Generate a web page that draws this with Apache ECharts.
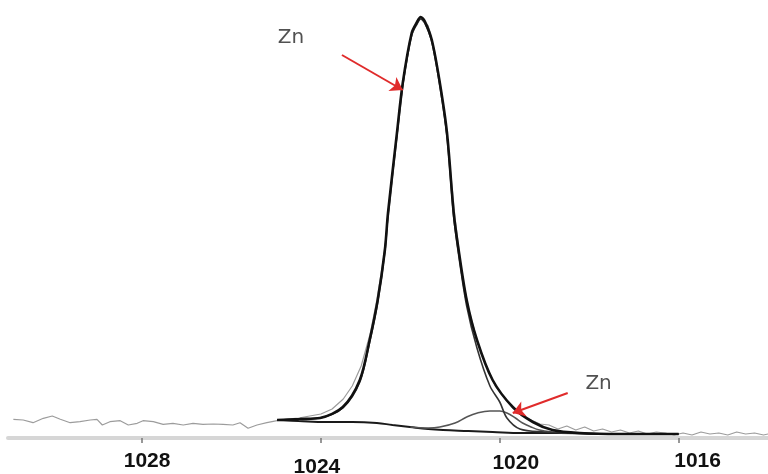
<!DOCTYPE html>
<html>
<head>
<meta charset="utf-8">
<script src="https://cdn.jsdelivr.net/npm/echarts@6/dist/echarts.min.js"></script>
<style>html,body{margin:0;padding:0;background:#fff}#c{width:768px;height:474px}</style>
</head>
<body>
<div id="c"></div>
<script>
// Binding energy (eV) tick labels
const tickValues = [1028, 1024, 1020, 1016];

// Raw spectrum (gray, noisy)
const rawX = [1030.88,1030.66,1030.44,1030.21,1030.01,1029.83,1029.61,1029.39,1029.16,1029.01,1028.89,1028.72,1028.49,1028.31,1028.11,1027.98,1027.75,1027.53,1027.31,1027.08,1026.86,1026.64,1026.41,1026.19,1025.97,1025.81,1025.63,1025.43,1025.21,1024.98,
  1024.75,1024.5,1024.25,1024.0,1023.75,1023.5,1023.3,1023.1,1022.9,1022.75,1022.6,1022.45,1022.3,1022.15,1022.0,1021.85,1021.75,1021.6,1021.45,1021.3,1021.15,1021.0,1020.85,1020.7,1020.5,1020.3,1020.1,1019.9,1019.7,1019.5,1019.3,1019.1,1018.9,
  1018.7,1018.5,1018.3,1018.1,1017.9,1017.7,1017.5,1017.3,1017.1,1016.9,1016.7,1016.5,1016.3,1016.1,1015.9,1015.7,1015.5,1015.3,1015.1,1014.9,1014.7,1014.5,1014.3,1014.1,1014.0];
const rawY = [18.7,18,15.3,19.7,22,18.7,15.3,16.3,18,18.7,13,16.3,17.3,13,14.7,17.3,16.3,13.7,14.7,13,14.7,13.7,14,13.7,13,15.3,9.7,13,15.3,17.3,
  19,20,22,24,29,39,52,72,104,138,180,238,300,357,398,417,420,412,385,345,290,220,165,130,96,72,52,40,30,22,18,14,13,
  9,12,8,11,7,9,6,8,5,7,4,6,5,3,5,3,6,4,5,3,6,4,5,3,4];

// Fitted envelope (black)
const envX = [1024.98,1024.47,1024.02,1023.51,1023.13,1022.91,1022.73,1022.57,1022.50,1022.30,1022.17,1021.97,1021.85,1021.77,1021.68,1021.52,1021.34,1021.18,1021.03,1020.92,1020.74,1020.51,1020.16,1019.71,1019.26,1018.82,1018.21,1017.32,1016.00];
const envY = [18,19,20,31,58,98,138,188,225,305,355,405,416,421,417,398,355,305,225,188,138,98,58,31,16,8,5,4,4];

// Main Zn component
const mainX = [1024.98,1024.47,1024.02,1023.51,1023.13,1022.91,1022.73,1022.57,1022.50,1022.30,1022.17,1021.97,1021.85,1021.77,1021.68,1021.52,1021.34,1021.18,1021.03,1020.92,1020.74,1020.51,1020.22,1020.0,1019.84,1019.55,1019.0,1018.5,1017.5,1016.0];
const mainY = [18,19,20,30,56,96,136,186,223,303,353,403,414,419,415,396,352,301,221,183,132,90,52,36,20,9,6,5,4,4];

// Small Zn component
const smallX = [1022.0,1021.6,1021.34,1021.0,1020.74,1020.5,1020.22,1020.0,1019.84,1019.65,1019.49,1019.3,1019.11,1018.8,1018.5];
const smallY = [11,10,11,15,21,25,27,27,25,20,15,11,8,6,5];

// Background
const bgX = [1024.98,1024.5,1023.87,1023.3,1022.75,1022.4,1022.01,1021.6,1021.27,1020.7,1020.16,1019.5,1018.66,1017.5,1016.0];
const bgY = [18,17,16,16,15,13,11,9,8,7,6,5,5,4,4];

// Annotations (data units)
const annoText = ['Zn', 'Zn'];
const annoLabelPos = [[1024.67, 400], [1017.79, 54]];
const arrowFrom = [[1023.53, 383], [1018.48, 45]];
const arrowTo = [[1022.17, 348], [1019.71, 25]];

const zip = (xs, ys) => xs.map((x, i) => [x, ys[i]]);

const lblFont = { fontFamily: 'Liberation Sans, Arial, sans-serif', fontWeight: 'bold', fontSize: 21, color: '#111' };

const chart = echarts.init(document.getElementById('c'));
chart.setOption({
  animation: false,
  backgroundColor: '#fff',
  grid: { left: 8, right: 0, top: 0, bottom: 36, containLabel: false, outerBoundsMode: 'none' },
  xAxis: {
    type: 'value', min: 1014, max: 1031, inverse: true,
    axisLine: { show: true, lineStyle: { color: '#d6d6d6', width: 4 } },
    axisTick: { show: true, length: 5, customValues: tickValues, lineStyle: { color: '#777', width: 1.5 } },
    axisLabel: Object.assign({
      customValues: tickValues, margin: 13,
      formatter: v => '{t' + v + '|' + String(v) + '}',
      rich: {
        t1028: Object.assign({ padding: [0, 0, 0, 10] }, lblFont),
        t1024: Object.assign({ padding: [6, 8, 0, 0] }, lblFont),
        t1020: Object.assign({ padding: [2, 0, 0, 32] }, lblFont),
        t1016: Object.assign({ padding: [0, 0, 0, 38] }, lblFont)
      }
    }, lblFont),
    splitLine: { show: false }
  },
  yAxis: { type: 'value', min: 0, max: 438, show: false },
  series: [
    { type: 'line', data: zip(rawX, rawY), showSymbol: false, lineStyle: { color: '#9c9c9c', width: 1.2 }, z: 1 },
    { type: 'line', data: zip(bgX, bgY), showSymbol: false, smooth: 0.4, lineStyle: { color: '#1a1a1a', width: 2 }, z: 2 },
    { type: 'line', data: zip(smallX, smallY), showSymbol: false, smooth: 0.4, lineStyle: { color: '#555', width: 1.5 }, z: 2 },
    { type: 'line', data: zip(mainX, mainY), showSymbol: false, smooth: 0.3, lineStyle: { color: '#333', width: 1.6 }, z: 3 },
    { type: 'line', data: zip(envX, envY), showSymbol: false, smooth: 0.3, lineStyle: { color: '#111', width: 2.6 }, z: 4,
      markLine: {
        silent: true, animation: false,
        symbol: ['none', 'arrow'], symbolSize: 12,
        label: { show: false },
        lineStyle: { color: '#e02b2b', width: 2, type: 'solid' },
        data: arrowFrom.map((f, i) => [{ coord: f }, { coord: arrowTo[i] }])
      }
    },
    { type: 'scatter', data: annoLabelPos, symbolSize: 0, z: 5,
      label: { show: true, position: 'inside', formatter: p => annoText[p.dataIndex],
        fontFamily: 'DejaVu Sans, sans-serif', fontSize: 20, color: '#262626' } }
  ]
});
</script>
</body>
</html>
